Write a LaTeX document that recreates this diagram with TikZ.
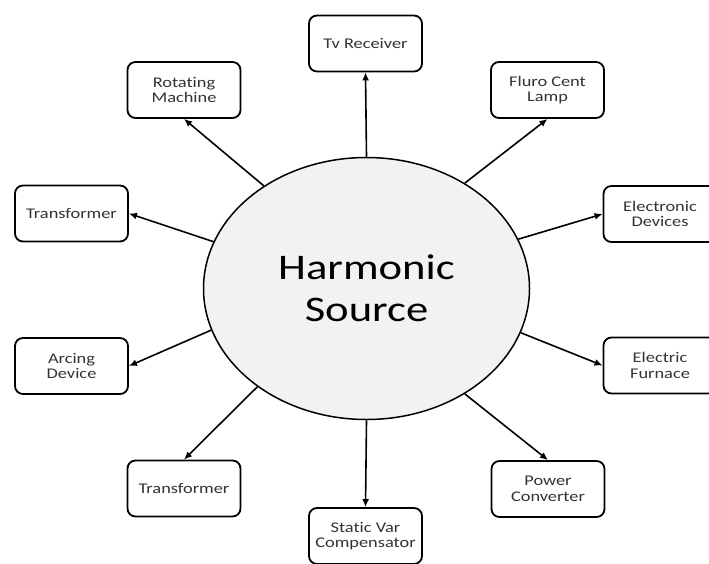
\documentclass[tikz,border=0pt]{standalone}
\usepackage{fontspec}
\setmainfont{Carlito}[FakeStretch=1.24, Ligatures=NoCommon]
\usetikzlibrary{shapes.geometric,arrows.meta}

\definecolor{srcfill}{RGB}{242,242,242}
\tikzset{
  load/.style={draw, rounded corners=8pt, line width=1.8pt, minimum width=113pt,
    minimum height=56pt, align=center, text=black!80,
    font=\fontsize{14.8}{15.5}\selectfont},
  src/.style={ellipse, draw, fill=srcfill, line width=1.5pt, minimum width=326pt,
    minimum height=262pt, inner sep=0pt, align=center,
    font=\fontsize{36}{42}\selectfont},
  feed/.style={-{Latex[length=8pt,width=7pt]}, line width=1.6pt}
}

\begin{document}
\begin{tikzpicture}[x=1pt,y=-1pt]
    \useasboundingbox (0,0) rectangle (709,563);
    \clip (0,0) rectangle (709,563);
    \node [src] (h) at (366.5, 288.5) {Harmonic\\Source};
    \node [load] (tv) at (365.5, 43.5) {Tv Receiver};
    \node [load] (rot) at (184, 90) {Rotating\\Machine};
    \node [load] (fluro) at (547.5, 90) {Fluro Cent\\Lamp};
    \node [load] (trl) at (71.5, 213.5) {Transformer};
    \node [load] (elec) at (660, 214) {Electronic\\Devices};
    \node [load] (arc) at (71.5, 366) {Arcing\\Device};
    \node [load] (furn) at (660, 365.5) {Electric\\Furnace};
    \node [load] (trb) at (184, 488.5) {Transformer};
    \node [load] (svc) at (365.5, 536) {Static Var\\Compensator};
    \node [load] (pow) at (548, 489) {Power\\Converter};
    \draw [feed] (h.90) to (tv.south);
    \draw [feed] (h.135) to (rot.south);
    \draw [feed] (h.47) to (fluro.south);
    \draw [feed] (h.163) to (trl.east);
    \draw [feed] (h.18) to (elec.west);
    \draw [feed] (h.195) to (arc.east);
    \draw [feed] (h.344) to (furn.west);
    \draw [feed] (h.222) to (trb.north);
    \draw [feed] (h.270) to (svc.north);
    \draw [feed] (h.313) to (pow.north);
\end{tikzpicture}
\end{document}
